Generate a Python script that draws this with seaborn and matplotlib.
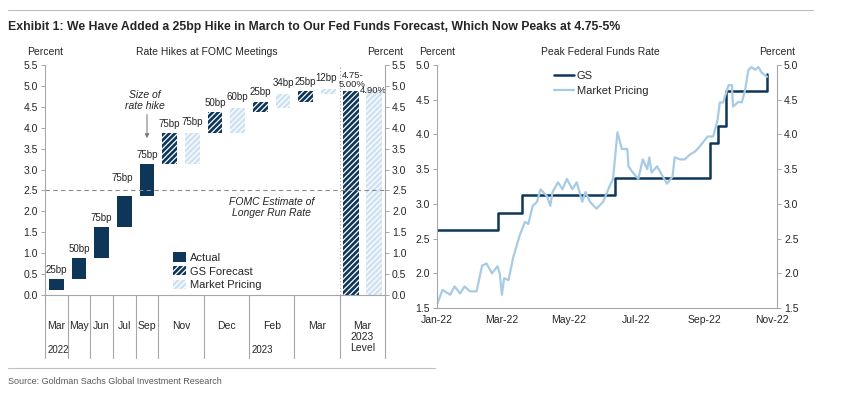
import numpy as np
import pandas as pd
import seaborn as sns
import matplotlib
matplotlib.use('Agg')
from matplotlib import pyplot as plt
from matplotlib.patches import Patch
from matplotlib.lines import Line2D
import matplotlib.dates as mdates
import matplotlib.ticker as mticker

# Dados do painel esquerdo (altas nas reunioes do FOMC)
meses = ['Mar', 'May', 'Jun', 'Jul', 'Sep', 'Nov', 'Dec', 'Feb', 'Mar', 'Mar\n2023\nLevel']
larguras_meses = [1, 1, 1, 1, 1, 2, 2, 2, 2, 2]
actual_base = [0.125, 0.375, 0.875, 1.625, 2.375]
actual_alta = [0.25, 0.50, 0.75, 0.75, 0.75]
actual_rotulo = ['25bp', '50bp', '75bp', '75bp', '75bp']
gs_base = [3.125, 3.875, 4.375, 4.625]
gs_alta = [0.75, 0.50, 0.25, 0.25]
gs_rotulo = ['75bp', '50bp', '25bp', '25bp']
mkt_base = [3.125, 3.875, 4.475, 4.815]
mkt_alta = [0.75, 0.60, 0.34, 0.12]
mkt_rotulo = ['75bp', '60bp', '34bp', '12bp']
gs_nivel = 4.875
mkt_nivel = 4.90
gs_nivel_rotulo = '4.75-\n5.00%'
mkt_nivel_rotulo = '4.90%'
fomc_longo_prazo = 2.5

# Dados do painel direito (pico da taxa de juros)
gs_datas = ['2022-01-01', '2022-02-25', '2022-03-19', '2022-06-12', '2022-09-06',
            '2022-09-13', '2022-09-21', '2022-10-28']
gs_pico = [2.625, 2.875, 3.125, 3.375, 3.875, 4.125, 4.625, 4.875]
mkt_datas = ['2022-01-01', '2022-01-06', '2022-01-13', '2022-01-17', '2022-01-22', '2022-01-26',
             '2022-01-31', '2022-02-06', '2022-02-11', '2022-02-15', '2022-02-20', '2022-02-25',
             '2022-02-27', '2022-03-01', '2022-03-03', '2022-03-07', '2022-03-11', '2022-03-17',
             '2022-03-22', '2022-03-25', '2022-03-29', '2022-04-02', '2022-04-05', '2022-04-11',
             '2022-04-14', '2022-04-16', '2022-04-21', '2022-04-25', '2022-04-29', '2022-05-04',
             '2022-05-08', '2022-05-13', '2022-05-16', '2022-05-20', '2022-05-26', '2022-06-01',
             '2022-06-07', '2022-06-10', '2022-06-14', '2022-06-18', '2022-06-23', '2022-06-24',
             '2022-06-28', '2022-07-03', '2022-07-07', '2022-07-11', '2022-07-13', '2022-07-15',
             '2022-07-20', '2022-07-25', '2022-07-29', '2022-08-03', '2022-08-05', '2022-08-10',
             '2022-08-14', '2022-08-19', '2022-08-24', '2022-08-28', '2022-09-02', '2022-09-04',
             '2022-09-09', '2022-09-13', '2022-09-15', '2022-09-18', '2022-09-23', '2022-09-26',
             '2022-09-27', '2022-10-02', '2022-10-05', '2022-10-08', '2022-10-11', '2022-10-14',
             '2022-10-17', '2022-10-20', '2022-10-23', '2022-10-28']
mkt_pico = [1.55, 1.76, 1.69, 1.81, 1.71, 1.81, 1.74, 1.74, 2.11, 2.14, 2.00, 2.10,
            2.00, 1.69, 1.93, 1.90, 2.21, 2.54, 2.74, 2.71, 2.97, 3.03, 3.21, 3.11,
            2.97, 3.17, 3.31, 3.21, 3.36, 3.21, 3.31, 3.03, 3.17, 3.03, 2.93, 3.03,
            3.26, 3.36, 4.03, 3.79, 3.79, 3.54, 3.45, 3.36, 3.64, 3.50, 3.67, 3.45,
            3.54, 3.40, 3.29, 3.39, 3.67, 3.64, 3.64, 3.71, 3.76, 3.83, 3.93, 3.97,
            3.97, 4.21, 4.46, 4.46, 4.71, 4.71, 4.40, 4.47, 4.46, 4.64, 4.93, 4.97,
            4.93, 4.97, 4.89, 4.83]

NAVY = '#0e3659'
CLARO = '#cfe2f3'
LINHA_CLARA = '#a6cbe6'
CINZA = '#a6a6a6'
TEXTO = '#262626'

sns.set_style('white')
plt.rcParams['font.family'] = ['Liberation Sans', 'DejaVu Sans']
plt.rcParams['hatch.linewidth'] = 0.9
plt.rcParams['hatch.color'] = 'white'

fig = plt.figure(figsize=(8.49, 3.94), dpi=100)

# ---------------- painel esquerdo ----------------
ax = fig.add_axes([0.053, 0.2513, 0.4005, 0.5838])
limites = np.concatenate([[0], np.cumsum(larguras_meses)])
centros = (limites[:-1] + limites[1:]) / 2

x_actual = np.arange(len(actual_base)) + 0.5
x_gs = limites[5:9] + 0.5
x_mkt = limites[5:9] + 1.5

ax.bar(x_actual, actual_alta, bottom=actual_base, width=0.66, color=NAVY, linewidth=0)
ax.bar(x_gs, gs_alta, bottom=gs_base, width=0.65, color=NAVY, hatch='//////', edgecolor='white', linewidth=0)
ax.bar(x_mkt, mkt_alta, bottom=mkt_base, width=0.65, color=CLARO, hatch='//////', edgecolor='white', linewidth=0)
ax.bar([limites[9] + 0.5], [gs_nivel], width=0.7, color=NAVY, hatch='//////', edgecolor='white', linewidth=0)
ax.bar([limites[9] + 1.5], [mkt_nivel], width=0.7, color=CLARO, hatch='//////', edgecolor='white', linewidth=0)

for i, r in enumerate(actual_rotulo):
    topo = actual_base[i] + actual_alta[i]
    dx, dy = (-0.1, 0.3) if i == 3 else (0, 0.1)
    ax.text(x_actual[i] + dx, topo + dy, r, ha='center', va='bottom', fontsize=7, color=TEXTO)
for i in range(len(gs_rotulo)):
    ax.text(x_gs[i], gs_base[i] + gs_alta[i] + 0.1, gs_rotulo[i], ha='center', va='bottom', fontsize=7, color=TEXTO)
    dx = -0.1 if i == 3 else 0
    ax.text(x_mkt[i] + dx, mkt_base[i] + mkt_alta[i] + 0.14, mkt_rotulo[i], ha='center', va='bottom',
            fontsize=7, color=TEXTO)
ax.text(limites[9] + 0.55, gs_nivel + 0.05, gs_nivel_rotulo, ha='center', va='bottom', fontsize=6.8,
        color=TEXTO, linespacing=1.0)
ax.text(limites[9] + 1.5, mkt_nivel - 0.12, mkt_nivel_rotulo, ha='center', va='bottom', fontsize=6.8, color=TEXTO)

# linha de longo prazo do FOMC e separador do nivel
ax.axhline(fomc_longo_prazo, color='#8c8c8c', lw=0.8, ls=(0, (4, 3)))
ax.axvline(limites[9], color=CINZA, lw=0.8, ls=(0, (1, 2)))
ax.text(10.0, 2.1, 'FOMC Estimate of\nLonger Run Rate', ha='center', va='center', style='italic',
        fontsize=7.5, color=TEXTO, linespacing=1.1)
ax.text(4.4, 4.66, 'Size of\nrate hike', ha='center', va='center', style='italic', fontsize=7.5,
        color=TEXTO, linespacing=1.1)
ax.annotate('', xy=(4.5, 3.68), xytext=(4.5, 4.38),
            arrowprops=dict(arrowstyle='-|>', color='#7f7f7f', lw=0.8, mutation_scale=6))

ax.set_xlim(0, limites[-1])
ax.set_ylim(0, 5.5)
ax.set_xticks([])
ax.set_yticks(np.arange(0, 5.51, 0.5))
ax.yaxis.set_major_formatter(mticker.FormatStrFormatter('%.1f'))
ax2 = ax.twinx()
ax2.set_ylim(0, 5.5)
ax2.set_yticks(np.arange(0, 5.51, 0.5))
ax2.yaxis.set_major_formatter(mticker.FormatStrFormatter('%.1f'))
for a in (ax, ax2):
    a.tick_params(axis='y', length=3, width=0.7, color=CINZA, labelsize=7.5, labelcolor=TEXTO, pad=2)
    for s in a.spines.values():
        s.set_visible(False)
ax.spines['left'].set_visible(True)
ax2.spines['right'].set_visible(True)
ax.spines['bottom'].set_visible(True)
for s in (ax.spines['left'], ax2.spines['right'], ax.spines['bottom']):
    s.set_color(CINZA)
    s.set_linewidth(0.8)

# separadores de categoria abaixo do eixo
trans = ax.get_xaxis_transform()
for b in limites:
    ax.plot([b, b], [0, -0.275], color=CINZA, lw=0.8, transform=trans, clip_on=False)
for c, m in zip(centros, meses):
    ax.text(c, -0.115, m, ha='center', va='top', fontsize=7.5, color=TEXTO, transform=trans, linespacing=1.1)
ax.text(0.1, -0.24, '2022', ha='left', va='center', fontsize=7, color=TEXTO, transform=trans)
ax.text(limites[7] + 0.1, -0.24, '2023', ha='left', va='center', fontsize=7, color=TEXTO, transform=trans)

alcas = [Patch(facecolor=NAVY, edgecolor='none'),
         Patch(facecolor=NAVY, edgecolor='white', hatch='//////', linewidth=0),
         Patch(facecolor=CLARO, edgecolor='white', hatch='//////', linewidth=0)]
ax.legend(alcas, ['Actual', 'GS Forecast', 'Market Pricing'], loc='upper left', bbox_to_anchor=(0.375, 0.185),
          frameon=False, fontsize=8, handlelength=1.2, handleheight=0.9, handletextpad=0.4,
          labelspacing=0.3, borderpad=0, borderaxespad=0)

fig.text(45 / 849, 1 - 52 / 394, 'Percent', ha='center', va='center', fontsize=7.5, color=TEXTO)
fig.text(207 / 849, 1 - 52 / 394, 'Rate Hikes at FOMC Meetings', ha='center', va='center', fontsize=7.5, color=TEXTO)
fig.text(385 / 849, 1 - 52 / 394, 'Percent', ha='center', va='center', fontsize=7.5, color=TEXTO)

# ---------------- painel direito ----------------
bx = fig.add_axes([0.5147, 0.2183, 0.4005, 0.6168])
df_gs = pd.DataFrame({'data': pd.to_datetime(gs_datas), 'pico': gs_pico})
df_mkt = pd.DataFrame({'data': pd.to_datetime(mkt_datas), 'pico': mkt_pico})
sns.lineplot(data=df_gs, x='data', y='pico', ax=bx, color=NAVY, lw=1.8, drawstyle='steps-post', label='GS')
sns.lineplot(data=df_mkt, x='data', y='pico', ax=bx, color=LINHA_CLARA, lw=1.6, label='Market Pricing')
bx.set_xlim(pd.Timestamp('2022-01-01'), pd.Timestamp('2022-11-06'))
bx.set_ylim(1.5, 5.0)
bx.set_xlabel('')
bx.set_ylabel('')
bx.set_xticks(pd.to_datetime(['2022-01-01', '2022-03-01', '2022-05-01', '2022-07-01', '2022-09-01', '2022-11-01']))
bx.xaxis.set_major_formatter(mdates.DateFormatter('%b-%y'))
bx.set_yticks(np.arange(1.5, 5.01, 0.5))
bx.yaxis.set_major_formatter(mticker.FormatStrFormatter('%.1f'))
bx2 = bx.twinx()
bx2.set_ylim(1.5, 5.0)
bx2.set_yticks(np.arange(1.5, 5.01, 0.5))
bx2.yaxis.set_major_formatter(mticker.FormatStrFormatter('%.1f'))
for a in (bx, bx2):
    a.tick_params(axis='both', length=3, width=0.7, color=CINZA, labelsize=7.5, labelcolor=TEXTO, pad=2)
    for s in a.spines.values():
        s.set_visible(False)
bx.spines['left'].set_visible(True)
bx.spines['bottom'].set_visible(True)
bx2.spines['right'].set_visible(True)
for s in (bx.spines['left'], bx.spines['bottom'], bx2.spines['right']):
    s.set_color(CINZA)
    s.set_linewidth(0.8)

bx.legend(loc='upper left', bbox_to_anchor=(0.345, 0.975), frameon=False, fontsize=8,
          handlelength=1.8, handletextpad=0.2, labelspacing=0.45, borderpad=0, borderaxespad=0)

fig.text(437 / 849, 1 - 52 / 394, 'Percent', ha='center', va='center', fontsize=7.5, color=TEXTO)
fig.text(600 / 849, 1 - 52 / 394, 'Peak Federal Funds Rate', ha='center', va='center', fontsize=7.5, color=TEXTO)
fig.text(777 / 849, 1 - 52 / 394, 'Percent', ha='center', va='center', fontsize=7.5, color=TEXTO)

# ---------------- titulo e fonte ----------------
fig.add_artist(Line2D([8 / 849, 813 / 849], [1 - 10 / 394, 1 - 10 / 394], color='#bfbfbf', lw=0.8))
fig.add_artist(Line2D([8 / 849, 435 / 849], [1 - 368 / 394, 1 - 368 / 394], color='#bfbfbf', lw=0.8))
fig.text(8 / 849, 1 - 27 / 394,
         'Exhibit 1: We Have Added a 25bp Hike in March to Our Fed Funds Forecast, Which Now Peaks at 4.75-5%',
         ha='left', va='center', fontsize=8.8, fontweight='bold', color=TEXTO,
         family=['Liberation Sans Narrow', 'Liberation Sans', 'DejaVu Sans'])
fig.text(8 / 849, 1 - 381 / 394, 'Source: Goldman Sachs Global Investment Research', ha='left', va='center',
         fontsize=6.5, color='#595959', family=['Liberation Sans Narrow', 'Liberation Sans', 'DejaVu Sans'])

fig.savefig('out.png', dpi=100)
